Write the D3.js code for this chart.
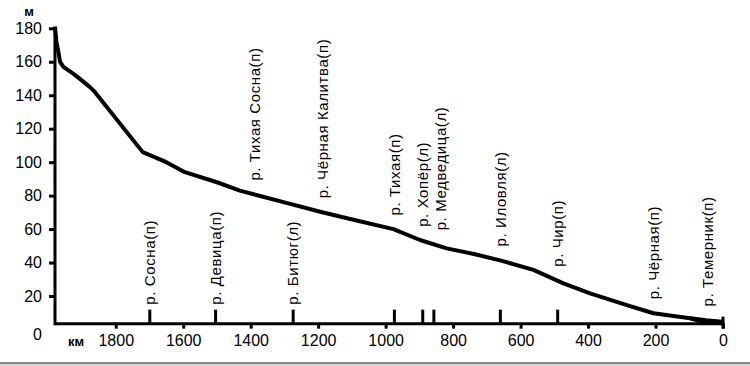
<!DOCTYPE html>
<html>
<head>
<meta charset="utf-8">
<script src="https://cdn.jsdelivr.net/npm/d3@7"></script>
<style>
  body { margin: 0; background: #fff; }
  svg { display: block; font-family: "Liberation Sans", Arial, sans-serif; }
</style>
</head>
<body>
<div id="chart"></div>
<script>
// продольный профиль реки: расстояние от устья (км) и высота (м)
const profileKm = [1980, 1976, 1970, 1965, 1955, 1920, 1877, 1862, 1720, 1650, 1595, 1500, 1432, 1300, 1194, 1105, 977, 898, 819, 735, 655, 562, 473, 394, 285, 206, 147, 97, 50, 3];
const profileM  = [181, 172, 166, 160, 157, 152, 145, 142, 106, 100, 94, 88, 83, 76, 70.4, 66, 60, 53.5, 48.5, 45, 41, 35.6, 27.6, 21.6, 14.6, 9.7, 8.1, 6.7, 5.5, 4.7];

// рукава дельты у самого устья
const deltaKm = [97, 60, 25, 0];
const deltaM  = [6.7, 4.6, 4, 3.8];

// притоки
const tribNames = ["р. Сосна(п)", "р. Девица(п)", "р. Битюг(л)", "р. Тихая Сосна(п)", "р. Чёрная Калитва(п)",
  "р. Тихая(п)", "р. Хопёр(л)", "р. Медведица(л)", "р. Иловля(л)", "р. Чир(п)", "р. Чёрная(п)", "р. Темерник(п)"];
const tribKm   = [1699, 1504, 1274, 1387, 1186, 974, 890, 857, 660, 490, 206, 46];
const tribTick = [true, true, true, false, false, true, true, true, true, true, false, false];
const tribLow  = [true, true, true, false, false, false, false, false, false, false, false, false];

const xTicks = [1800, 1600, 1400, 1200, 1000, 800, 600, 400, 200, 0];
const yTicks = [0, 20, 40, 60, 80, 100, 120, 140, 160, 180];

//---------------------------------------------------------------------------------------

const width = 750, height = 366;

const svg = d3.select("#chart")
  .append("svg")
  .attr("width", width)
  .attr("height", height)
  .attr("viewBox", [0, 0, width, height]);

const x = d3.scaleLinear().domain([1980, 0]).range([55, 723]);
const y = d3.scaleLinear().domain([0, 180]).range([329.5, 28.3]);

// ось X проходит чуть выше нулевой отметки, как на оригинале
const axisY = y(3.5);

// Ось Y
const gy = svg.append("g")
  .attr("transform", `translate(${x(1980)}, 0)`)
  .call(d3.axisLeft(y).tickValues(yTicks).tickSize(6).tickPadding(7));
gy.select(".domain").remove();
gy.selectAll(".tick line").attr("stroke", "#000").attr("stroke-width", 3);
gy.selectAll(".tick").filter(d => d === 0).select("line").remove();
gy.selectAll(".tick").filter(d => d === 0).select("text").attr("dy", "0.6em");
gy.selectAll(".tick text").attr("fill", "#000").style("font-size", "16px");

svg.append("line")
  .attr("x1", x(1980)).attr("x2", x(1980))
  .attr("y1", y(180) - 1.5).attr("y2", axisY + 1.5)
  .attr("stroke", "#000").attr("stroke-width", 3);

svg.append("text")
  .attr("x", 29).attr("y", 16)
  .attr("text-anchor", "middle")
  .style("font-size", "13px")
  .style("font-weight", "bold")
  .text("м");

// Ось X
const gx = svg.append("g")
  .attr("transform", `translate(0, ${axisY})`)
  .call(d3.axisBottom(x).tickValues(xTicks).tickFormat(d3.format("d")).tickSize(5).tickPadding(6));
gx.select(".domain").remove();
gx.selectAll(".tick line").attr("stroke", "#000").attr("stroke-width", 3);
gx.selectAll(".tick text").attr("fill", "#000").style("font-size", "16px");

svg.append("line")
  .attr("x1", x(1980)).attr("x2", x(0) + 1.5)
  .attr("y1", axisY).attr("y2", axisY)
  .attr("stroke", "#000").attr("stroke-width", 3);

svg.append("line")
  .attr("x1", x(0)).attr("x2", x(0))
  .attr("y1", axisY - 7).attr("y2", axisY + 5)
  .attr("stroke", "#000").attr("stroke-width", 3);

svg.append("text")
  .attr("x", 76).attr("y", axisY + 22)
  .attr("text-anchor", "middle")
  .style("font-size", "13px")
  .style("font-weight", "bold")
  .text("км");

// Профиль
const line = d3.line().x(d => x(d[0])).y(d => y(d[1]));
const profile = d3.zip(profileKm, profileM);

svg.append("path")
  .datum(profile)
  .attr("d", line)
  .attr("fill", "none")
  .attr("stroke", "#000")
  .attr("stroke-width", 4)
  .attr("stroke-linejoin", "round");

svg.append("path")
  .datum(d3.zip(deltaKm, deltaM))
  .attr("d", line)
  .attr("fill", "none")
  .attr("stroke", "#000")
  .attr("stroke-width", 4)
  .attr("stroke-linejoin", "round");

// высота профиля в точке (для размещения подписей)
const profileAt = km => {
  const i = d3.bisector(d => -d[0]).left(profile, -km);
  if (i <= 0) return profile[0][1];
  if (i >= profile.length) return profile[profile.length - 1][1];
  const a = profile[i - 1], b = profile[i];
  const t = (km - a[0]) / (b[0] - a[0]);
  return a[1] + t * (b[1] - a[1]);
};

// Притоки: отметки на оси
const tickTop = axisY - 14;
svg.append("g")
  .selectAll("line")
  .data(tribKm.filter((d, i) => tribTick[i]))
  .join("line")
  .attr("x1", d => x(d)).attr("x2", d => x(d))
  .attr("y1", tickTop).attr("y2", axisY)
  .attr("stroke", "#000")
  .attr("stroke-width", 3);

// Притоки: подписи (раздвигаем слишком близкие по горизонтали)
const labels = tribNames
  .map((name, i) => ({ name, km: tribKm[i], low: tribLow[i], lx: x(tribKm[i]) }))
  .sort((a, b) => a.lx - b.lx);
labels.forEach((d, i) => {
  if (i > 0 && d.lx - labels[i - 1].lx < 18) d.lx = labels[i - 1].lx + 18;
});

svg.append("g")
  .selectAll("text")
  .data(labels)
  .join("text")
  .attr("transform", d => {
    const yy = d.low ? tickTop - 5 : y(profileAt(d.km)) - 14;
    return `translate(${d.lx}, ${yy}) rotate(-90)`;
  })
  .attr("dy", "0.35em")
  .attr("text-anchor", "start")
  .style("font-size", "15px")
  .style("letter-spacing", "0.6px")
  .text(d => d.name);

// нижняя серая полоса
svg.append("rect")
  .attr("x", 0).attr("y", 362).attr("width", width).attr("height", 2)
  .attr("fill", "#8a8a8a");
svg.append("rect")
  .attr("x", 0).attr("y", 364).attr("width", width).attr("height", 2)
  .attr("fill", "#d6d6d6");
</script>
</body>
</html>
